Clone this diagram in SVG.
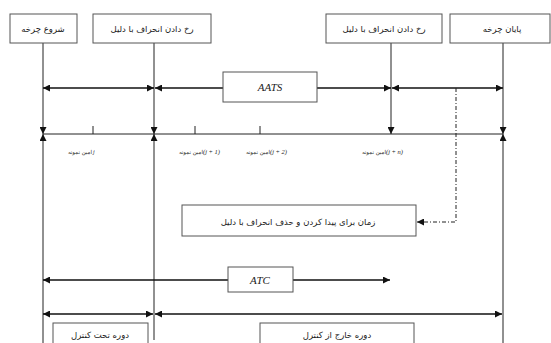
<svg xmlns="http://www.w3.org/2000/svg" width="551" height="343" viewBox="0 0 551 343">
<style>
.box{fill:#fff;stroke:#555;stroke-width:1}
.ln{stroke:#222;stroke-width:1;fill:none}
.thk{stroke:#111;stroke-width:1.5;fill:none}
.fa{font-family:"DejaVu Sans","Noto Sans",sans-serif;font-size:8.5px;fill:#222;text-anchor:middle}
.sm{font-family:"DejaVu Sans","Noto Sans",sans-serif;font-size:5.5px;fill:#222}
.it{font-family:"Liberation Serif",serif;font-style:italic;fill:#222}
</style>
<defs>
<marker id="ah" viewBox="0 0 10 10" refX="10" refY="5" markerWidth="7" markerHeight="7" markerUnits="userSpaceOnUse" orient="auto-start-reverse">
<path d="M0,0 L10,5 L0,10 z" fill="#111"/>
</marker>
</defs>
<rect width="551" height="343" fill="#fff"/>
<g id="connectors">
<line class="ln" x1="43" y1="134" x2="503" y2="134"/>
<line class="ln" x1="93" y1="126" x2="93" y2="134"/>
<line class="ln" x1="195" y1="126" x2="195" y2="134"/>
<line class="ln" x1="260" y1="126" x2="260" y2="134"/>
<line class="ln" x1="43" y1="43" x2="43" y2="134" marker-end="url(#ah)"/>
<line class="ln" x1="43" y1="343" x2="43" y2="134" marker-end="url(#ah)"/>
<line class="ln" x1="154" y1="43" x2="154" y2="134" marker-end="url(#ah)"/>
<line class="ln" x1="154" y1="340" x2="154" y2="134" marker-end="url(#ah)"/>
<line class="ln" x1="391" y1="43" x2="391" y2="134" marker-end="url(#ah)"/>
<line class="ln" x1="503" y1="43" x2="503" y2="134" marker-end="url(#ah)"/>
<line class="ln" x1="503" y1="343" x2="503" y2="134" marker-end="url(#ah)"/>
<line class="thk" x1="43" y1="88" x2="154" y2="88" marker-start="url(#ah)" marker-end="url(#ah)"/>
<line class="thk" x1="223" y1="88" x2="155" y2="88" marker-end="url(#ah)"/>
<line class="thk" x1="317" y1="88" x2="391" y2="88" marker-end="url(#ah)"/>
<line class="thk" x1="392" y1="88" x2="503" y2="88" marker-start="url(#ah)" marker-end="url(#ah)"/>
<path class="ln" d="M456,88 V222 H417" stroke-dasharray="4,2,1,2" marker-end="url(#ah)"/>
<line class="thk" x1="228" y1="280" x2="43" y2="280" marker-end="url(#ah)"/>
<line class="thk" x1="293" y1="280" x2="390" y2="280" marker-end="url(#ah)"/>
<line class="thk" x1="43" y1="314" x2="153" y2="314" marker-start="url(#ah)" marker-end="url(#ah)"/>
<line class="thk" x1="155" y1="314" x2="502" y2="314" marker-start="url(#ah)" marker-end="url(#ah)"/>
</g>
<g id="start"><rect class="box" x="10" y="14" width="67" height="29"/><text class="fa" x="43" y="32">شروع چرخه</text></g>
<g id="dev1"><rect class="box" x="93" y="14" width="118" height="29"/><text class="fa" x="152" y="32">رخ دادن انحراف با دلیل</text></g>
<g id="dev2"><rect class="box" x="326" y="14" width="116" height="29"/><text class="fa" x="384" y="32">رخ دادن انحراف با دلیل</text></g>
<g id="end"><rect class="box" x="450" y="14" width="100" height="29"/><text class="fa" x="502" y="32">پایان چرخه</text></g>
<g id="aats"><rect class="box" x="223" y="72" width="94" height="30"/><text class="it" x="270" y="91" font-size="11" text-anchor="middle">AATS</text></g>
<g id="samples">
<text class="sm" x="92" y="154" text-anchor="end">امین نمونه</text><text class="it" x="93" y="154" font-size="6">j</text>
<text class="sm" x="203" y="154" text-anchor="end">امین نمونه</text><text class="it" x="203" y="154" font-size="6.5">(j + 1)</text>
<text class="sm" x="270" y="154" text-anchor="end">امین نمونه</text><text class="it" x="270" y="154" font-size="6.5">(j + 2)</text>
<text class="sm" x="386" y="154" text-anchor="end">امین نمونه</text><text class="it" x="386" y="154" font-size="6.5">(j + n)</text>
</g>
<g id="detect"><rect class="box" x="182" y="205" width="234" height="31"/><text class="fa" x="298" y="225">زمان برای پیدا کردن و حذف انحراف با دلیل</text></g>
<g id="atc"><rect class="box" x="228" y="267" width="65" height="25"/><text class="it" x="260" y="284" font-size="11" text-anchor="middle">ATC</text></g>
<g id="incontrol"><rect class="box" x="53" y="323" width="95" height="25"/><text class="fa" x="100" y="338">دوره تحت کنترل</text></g>
<g id="outcontrol"><rect class="box" x="260" y="323" width="154" height="25"/><text class="fa" x="337" y="338">دوره خارج از کنترل</text></g>
</svg>
